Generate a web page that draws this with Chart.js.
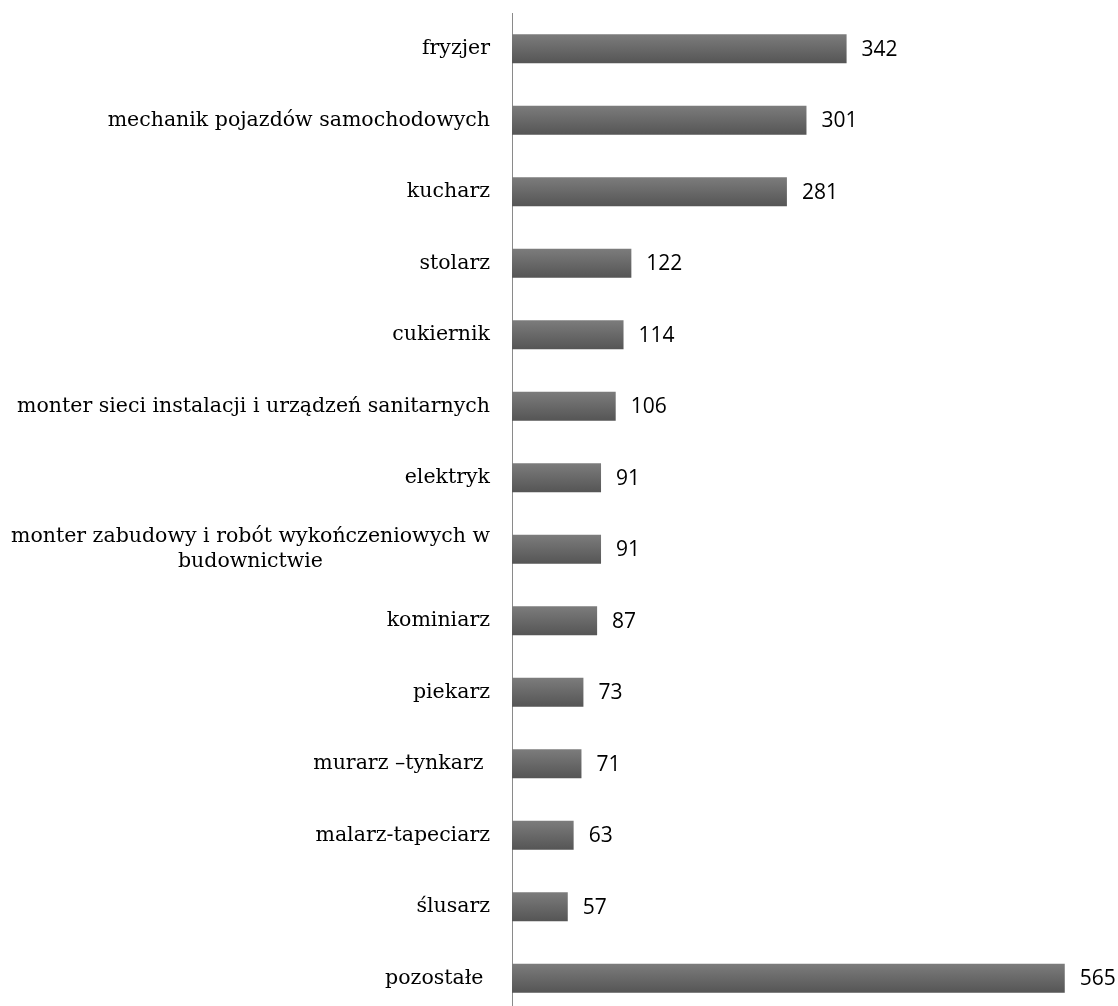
<!DOCTYPE html>
<html>
<head>
<meta charset="utf-8">
<script src="https://cdn.jsdelivr.net/npm/chart.js@4/dist/chart.umd.min.js"></script>
<style>
  html, body { margin: 0; padding: 0; background: #fff; overflow: hidden; height: 1006px; }
  #wrap { width: 1118px; height: 1014px; position: relative; }
</style>
</head>
<body>
<div id="wrap"><canvas id="chart"></canvas></div>
<script>
// zawody - liczba uczniów
var categories = [
    "fryzjer",
    "mechanik pojazdów samochodowych",
    "kucharz",
    "stolarz",
    "cukiernik",
    "monter sieci instalacji i urządzeń sanitarnych",
    "elektryk",
    ["monter zabudowy i robót wykończeniowych w", "budownictwie"],
    "kominiarz",
    "piekarz",
    "murarz –tynkarz ",
    "malarz-tapeciarz",
    "ślusarz",
    "pozostałe "
];
var values = [342, 301, 281, 122, 114, 106, 91, 91, 87, 73, 71, 63, 57, 565];

var BAR_H = 29;
var LABEL_FONT = '20.5px "DejaVu Serif", serif';
var VALUE_FONT = '21px "Open Sans", sans-serif';

function barGradient(context) {
    var chart = context.chart;
    var yScale = chart.scales.y;
    if (!yScale || yScale.top === undefined) return '#666';
    var yc = yScale.getPixelForValue(context.dataIndex);
    if (!isFinite(yc)) return '#666';
    var g = chart.ctx.createLinearGradient(0, yc - BAR_H / 2, 0, yc + BAR_H / 2);
    g.addColorStop(0, '#7c7c7c');
    g.addColorStop(1, '#555555');
    return g;
}

// rysuje etykiety kategorii (wiele linii wyśrodkowanych) i wartości przy słupkach
var labelsPlugin = {
    id: 'labelsPlugin',
    afterDraw: function (chart) {
        var ctx = chart.ctx;
        var yScale = chart.scales.y;
        var rightEdge = yScale.right - 22;
        ctx.save();
        ctx.fillStyle = '#000';
        ctx.font = LABEL_FONT;
        ctx.textBaseline = 'middle';
        categories.forEach(function (lab, i) {
            var y = yScale.getPixelForTick(i);
            if (Array.isArray(lab)) {
                var widest = 0;
                lab.forEach(function (l) { widest = Math.max(widest, ctx.measureText(l).width); });
                var lh = 25;
                var y0 = y - (lab.length - 1) * lh / 2;
                ctx.textAlign = 'center';
                lab.forEach(function (l, k) {
                    ctx.fillText(l, rightEdge - widest / 2, y0 + k * lh);
                });
            } else {
                ctx.textAlign = 'right';
                ctx.fillText(lab, rightEdge, y);
            }
        });
        ctx.font = VALUE_FONT;
        ctx.textAlign = 'left';
        var meta = chart.getDatasetMeta(0);
        meta.data.forEach(function (bar, i) {
            ctx.fillText(String(values[i]), bar.x + 15, bar.y + 1);
        });
        ctx.restore();
    }
};

var ctx = document.getElementById('chart');
var chart = new Chart(ctx, {
    type: 'bar',
    data: {
        labels: categories,
        datasets: [{
            data: values,
            backgroundColor: barGradient,
            borderWidth: 0,
            categoryPercentage: 1,
            barPercentage: 0.406
        }]
    },
    options: {
        indexAxis: 'y',
        responsive: true,
        maintainAspectRatio: false,
        animation: false,
        layout: { padding: { left: 0, top: 13, right: 19, bottom: 0 } },
        plugins: {
            legend: { display: false },
            tooltip: { enabled: false }
        },
        scales: {
            x: {
                display: false,
                min: 0,
                max: 600
            },
            y: {
                display: true,
                grid: { display: false, drawTicks: false },
                border: { display: true, color: '#8a8a8a', width: 1 },
                ticks: { display: false },
                afterFit: function (scale) { scale.width = 512; }
            }
        }
    },
    plugins: [labelsPlugin]
});
</script>
</body>
</html>
